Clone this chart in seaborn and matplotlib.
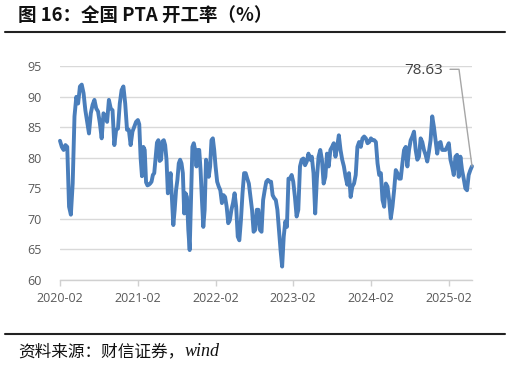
import matplotlib
matplotlib.use('Agg')
import matplotlib.pyplot as plt
import matplotlib.dates as mdates
from matplotlib.lines import Line2D
from matplotlib.transforms import IdentityTransform
import seaborn as sns
import pandas as pd

# ---- data (weekly PTA operating rate, %), one list per Feb-to-Feb year ----
rate_2020 = [82.8, 81.8, 81.3, 82.1, 81.8, 72.0, 70.7, 75.8, 86.8, 90.0, 88.9, 91.7, 92.0, 90.6,
             87.8, 85.9, 84.0, 87.3, 88.7, 89.5, 88.1, 87.6, 85.7, 83.2, 87.3, 86.8, 85.9, 89.5,
             88.1, 87.8, 82.1, 84.6, 84.8, 88.9, 91.1, 91.7, 88.9, 84.6, 84.6, 82.1, 84.3, 85.1, 85.9]
rate_2021 = [86.2, 85.5, 80.0, 77.0, 81.8, 81.3, 76.0, 75.5, 75.6, 75.8, 76.1, 77.2, 77.5, 80.0,
             82.5, 82.9, 79.5, 79.7, 82.7, 82.9, 82.1, 79.7, 74.2, 75.3, 77.5, 73.1, 69.0, 71.5,
             74.7, 76.4, 79.1, 79.7, 79.1, 77.5, 70.9, 74.2, 73.6, 68.2, 64.9, 73.1, 81.8, 82.4,
             81.3, 78.6, 81.3, 81.3, 78.0, 73.1, 68.7, 71.5, 79.7, 78.0, 76.9, 78.6, 82.9, 83.2, 81.3]
rate_2022 = [78.6, 76.1, 75.3, 74.7, 72.6, 73.9, 73.6, 72.0, 69.3, 69.8, 71.5, 72.6, 74.2, 72.0,
             67.1, 66.5, 69.8, 74.2, 77.5, 77.5, 76.6, 75.8, 73.6, 71.5,
             67.9, 68.2, 71.5, 71.5, 68.2, 67.9, 73.1, 74.7, 76.1, 76.4, 76.1, 76.1, 73.9, 73.4,
             73.1, 71.5, 68.2, 64.9, 62.2, 67.1, 69.6, 68.7, 76.6, 76.6, 77.2]
rate_2023 = [76.1, 73.6, 70.4, 71.5, 78.6, 79.7, 79.9, 78.8, 79.4, 80.7, 79.7, 80.2, 77.5, 70.9,
             76.6, 80.2, 81.3, 79.7, 75.8, 76.9, 80.7, 78.6, 81.3, 81.8, 82.4, 80.2, 81.8, 83.7,
             81.3, 79.7, 78.6, 76.9, 75.6, 77.5, 73.6, 75.3, 75.8, 77.2, 81.8, 82.6, 81.8, 83.2,
             83.5, 83.2, 82.4, 82.6]
rate_2024 = [83.2, 82.9, 82.9, 82.6, 79.1, 77.2, 77.5, 73.1, 72.0, 75.8, 75.3, 73.1, 70.1, 72.0,
             74.7, 78.0, 77.5, 76.6, 76.6, 79.1, 81.3, 81.8, 78.6, 81.3, 82.9, 83.5, 84.3, 81.3,
             79.7, 80.2, 83.2, 82.6, 81.3, 80.5, 79.4, 81.0, 82.9, 86.8, 85.1, 82.9, 80.7, 82.4,
             82.6, 81.3, 81.3, 81.3, 81.8]
rate_2025 = [82.4, 79.7, 78.6, 77.2, 80.2, 80.5, 76.9, 80.2, 78.0, 76.6, 75.0, 74.7, 77.2, 78.0, 78.63]

year_starts = ['2020-02-01', '2021-02-01', '2022-02-01', '2023-02-01', '2024-02-01', '2025-02-01']
last_date = '2025-05-21'
tick_labels = ['2020-02', '2021-02', '2022-02', '2023-02', '2024-02', '2025-02']
y_ticks = [60, 65, 70, 75, 80, 85, 90, 95]
title_text = '图 16：全国 PTA 开工率（%）'
source_cn = '资料来源：财信证券，'
source_en = 'wind'
last_label = '78.63'

# ---- build table ----
segments = [rate_2020, rate_2021, rate_2022, rate_2023, rate_2024]
dates, values = [], []
for i, seg in enumerate(segments):
    d = pd.date_range(year_starts[i], year_starts[i + 1], periods=len(seg) + 1)[:-1]
    dates.extend(d)
    values.extend(seg)
d = pd.date_range(year_starts[-1], last_date, periods=len(rate_2025))
dates.extend(d)
values.extend(rate_2025)
df = pd.DataFrame({'date': dates, 'rate': values})

# ---- style ----
sns.set_theme(style='white')
plt.rcParams['font.family'] = ['Open Sans', 'Noto Sans CJK SC', 'DejaVu Sans']

W, H = 511, 366
fig = plt.figure(figsize=(W / 100, H / 100), dpi=100)
fig.patch.set_facecolor('white')
ax = fig.add_axes([60 / W, 1 - 280 / H, (472 - 60) / W, (280 - 66.3) / H])

sns.lineplot(data=df, x='date', y='rate', ax=ax, color='#4a7ebb', linewidth=2.8)
for ln in ax.lines:
    ln.set_clip_on(False)
    ln.set_solid_capstyle('round')
    ln.set_solid_joinstyle('round')

ax.set_ylim(60, 95)
ax.set_xlim(pd.Timestamp(year_starts[0]), pd.Timestamp(last_date))
ax.set_yticks(y_ticks)
ax.set_xticks(pd.to_datetime(year_starts))
ax.set_xticklabels(tick_labels)
ax.grid(axis='y', color='#d9d9d9', linewidth=1)
ax.grid(axis='x', visible=False)
ax.set_axisbelow(True)
for s in ['top', 'right', 'left']:
    ax.spines[s].set_visible(False)
ax.spines['bottom'].set_color('#d0d0d0')
ax.spines['bottom'].set_linewidth(1)
ax.tick_params(axis='x', bottom=True, length=4, width=1, color='#d0d0d0', direction='out',
               pad=5, labelsize=9, labelcolor='#595959')
ax.tick_params(axis='y', left=False, length=0, pad=13, labelsize=9, labelcolor='#595959')
ax.set_xlabel('')
ax.set_ylabel('')

# ---- title, rules, source ----
fig.text(18 / W, 1 - 15 / H, title_text, fontsize=13.3, fontweight='bold',
         family=['Noto Sans CJK SC', 'DejaVu Sans'], va='center', ha='left', color='#111111')
fig.add_artist(Line2D([5 / W, 505 / W], [1 - 31.5 / H] * 2, color='#222222', linewidth=1.5))
fig.add_artist(Line2D([5 / W, 505 / W], [1 - 333.5 / H] * 2, color='#222222', linewidth=1.5))
t1 = fig.text(18 / W, 1 - 352 / H, source_cn, fontsize=12, style='italic',
              family=['Noto Sans CJK SC', 'DejaVu Sans'], va='center', ha='left', color='#111111')
fig.canvas.draw()
bb = t1.get_window_extent()
fig.text(bb.x1 / W, 1 - 352 / H, source_en, fontsize=13, style='italic',
         family=['Liberation Serif'], va='center', ha='left', color='#111111')

# ---- last value label with leader line ----
fig.text(443 / W, 1 - 70 / H, last_label, ha='right', va='center', fontsize=11, color='#404040')
px, py = ax.transData.transform((mdates.date2num(pd.Timestamp(last_date)), rate_2025[-1]))
fig.add_artist(Line2D([450, 459, px], [H - 69.3, H - 69.3, py], transform=IdentityTransform(),
                      color='#a6a6a6', linewidth=1))

fig.savefig('out.png', dpi=100, facecolor='white')
